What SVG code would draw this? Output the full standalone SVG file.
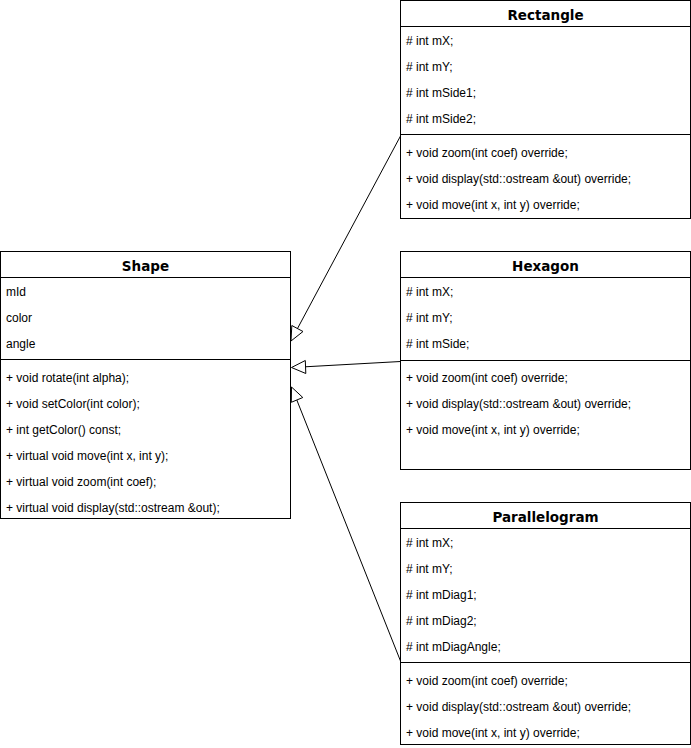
<svg xmlns="http://www.w3.org/2000/svg" width="691" height="748" viewBox="0 0 691 748">
  <style>
    .box { fill: #ffffff; stroke: #000000; stroke-width: 1; }
    .sep { stroke: #000000; stroke-width: 1; fill: none; }
    .title { font-family: "DejaVu Sans", Verdana, sans-serif; font-weight: bold; font-size: 13.5px; fill: #000000; text-anchor: middle; }
    .item { font-family: "Liberation Sans", Arial, sans-serif; font-size: 12px; fill: #000000; }
    .edge { stroke: #000000; stroke-width: 1; fill: none; }
    .head { stroke: #000000; stroke-width: 1; fill: #ffffff; }
  </style>
  <rect width="691" height="748" fill="#ffffff"/>

  <!-- base class -->
  <g id="shape">
    <rect class="box" x="0.5" y="251.5" width="290" height="267"/>
    <line class="sep" x1="0.5" y1="277.5" x2="290.5" y2="277.5"/>
    <line class="sep" x1="0.5" y1="359.5" x2="290.5" y2="359.5"/>
    <text class="title" x="145.5" y="271">Shape</text>
    <text class="item" x="6" y="296">mId</text>
    <text class="item" x="6" y="322">color</text>
    <text class="item" x="6" y="348">angle</text>
    <text class="item" x="6" y="382">+ void rotate(int alpha);</text>
    <text class="item" x="6" y="408">+ void setColor(int color);</text>
    <text class="item" x="6" y="434">+ int getColor() const;</text>
    <text class="item" x="6" y="460">+ virtual void move(int x, int y);</text>
    <text class="item" x="6" y="486">+ virtual void zoom(int coef);</text>
    <text class="item" x="6" y="512">+ virtual void display(std::ostream &amp;out);</text>
  </g>

  <g id="rectangle">
    <rect class="box" x="400.5" y="0.5" width="290" height="218"/>
    <line class="sep" x1="400.5" y1="26.5" x2="690.5" y2="26.5"/>
    <line class="sep" x1="400.5" y1="134.5" x2="690.5" y2="134.5"/>
    <text class="title" x="545.5" y="20">Rectangle</text>
    <text class="item" x="406" y="45"># int mX;</text>
    <text class="item" x="406" y="71"># int mY;</text>
    <text class="item" x="406" y="97"># int mSide1;</text>
    <text class="item" x="406" y="123"># int mSide2;</text>
    <text class="item" x="406" y="157">+ void zoom(int coef) override;</text>
    <text class="item" x="406" y="183">+ void display(std::ostream &amp;out) override;</text>
    <text class="item" x="406" y="209">+ void move(int x, int y) override;</text>
  </g>

  <g id="hexagon">
    <rect class="box" x="400.5" y="251.5" width="290" height="218"/>
    <line class="sep" x1="400.5" y1="277.5" x2="690.5" y2="277.5"/>
    <line class="sep" x1="400.5" y1="360.5" x2="690.5" y2="360.5"/>
    <text class="title" x="545.5" y="271">Hexagon</text>
    <text class="item" x="406" y="296"># int mX;</text>
    <text class="item" x="406" y="322"># int mY;</text>
    <text class="item" x="406" y="348"># int mSide;</text>
    <text class="item" x="406" y="382">+ void zoom(int coef) override;</text>
    <text class="item" x="406" y="408">+ void display(std::ostream &amp;out) override;</text>
    <text class="item" x="406" y="434">+ void move(int x, int y) override;</text>
  </g>

  <g id="parallelogram">
    <rect class="box" x="400.5" y="502.5" width="290" height="242"/>
    <line class="sep" x1="400.5" y1="528.5" x2="690.5" y2="528.5"/>
    <line class="sep" x1="400.5" y1="662.5" x2="690.5" y2="662.5"/>
    <text class="title" x="545.5" y="522">Parallelogram</text>
    <text class="item" x="406" y="547"># int mX;</text>
    <text class="item" x="406" y="573"># int mY;</text>
    <text class="item" x="406" y="599"># int mDiag1;</text>
    <text class="item" x="406" y="625"># int mDiag2;</text>
    <text class="item" x="406" y="651"># int mDiagAngle;</text>
    <text class="item" x="406" y="685">+ void zoom(int coef) override;</text>
    <text class="item" x="406" y="711">+ void display(std::ostream &amp;out) override;</text>
    <text class="item" x="406" y="737">+ void move(int x, int y) override;</text>
  </g>

  <!-- generalization edges, hollow triangle at the base class -->
  <g id="connectors">
    <line class="edge" x1="400.5" y1="136" x2="297.5" y2="328.5"/>
    <polygon class="head" points="291,341 303,331.5 291.8,325.5"/>
    <line class="edge" x1="400.5" y1="361.5" x2="305" y2="366.8"/>
    <polygon class="head" points="291.5,367.5 305.3,360.5 305.8,373.5"/>
    <line class="edge" x1="400.5" y1="661" x2="296.8" y2="400"/>
    <polygon class="head" points="291.5,387 302.8,397.5 291.3,402.3"/>
  </g>
</svg>
